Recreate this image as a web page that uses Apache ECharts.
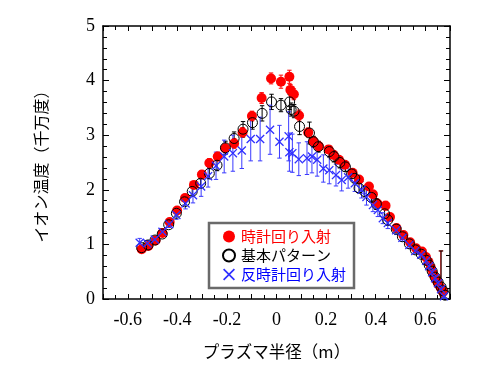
<!DOCTYPE html>
<html><head><meta charset="utf-8">
<script src="https://cdn.jsdelivr.net/npm/echarts@6/dist/echarts.min.js"></script>
<style>html,body{margin:0;padding:0;background:#fff}#c{width:500px;height:380px}</style>
</head><body><div id="c"></div>
<script>
const xTicks = [-0.6, -0.4, -0.2, 0, 0.2, 0.4, 0.6];
const seriesNames = ['時計回り入射', '基本パターン', '反時計回り入射'];

const redX = [-0.544,-0.517,-0.488,-0.46,-0.431,-0.401,-0.369,-0.333,-0.301,-0.271,-0.237,-0.207,-0.171,-0.137,-0.099,-0.06,-0.022,0.018,0.052,0.056,0.07,0.091,0.128,0.149,0.17,0.21,0.23,0.252,0.276,0.307,0.333,0.373,0.389,0.407,0.44,0.458,0.484,0.512,0.539,0.563,0.587,0.603,0.613,0.623,0.632,0.643,0.653,0.663,0.672];
const redY = [0.91,0.97,1.07,1.21,1.41,1.62,1.85,2.09,2.28,2.49,2.61,2.76,2.85,3.05,3.35,3.68,4.04,3.98,4.07,3.83,3.75,3.36,3.05,2.89,2.80,2.74,2.64,2.55,2.46,2.31,2.19,2.06,1.92,1.75,1.71,1.50,1.30,1.17,1.04,0.93,0.87,0.77,0.68,0.57,0.46,0.36,0.27,0.20,0.13];
const redErr = [0.05,0.04,0.04,0.04,0.04,0.05,0.05,0.06,0.07,0.08,0.08,0.08,0.09,0.09,0.09,0.1,0.1,0.12,0.12,0.1,0.1,0.1,0.08,0.08,0.08,0.07,0.07,0.06,0.06,0.06,0.05,0.05,0.05,0.05,0.08,0.05,0.05,0.04,0.04,0.04,0.04,0.04,0.04,0.04,0.04,0.04,0.04,0.68,0.04];

const blackX = [-0.544,-0.518,-0.49,-0.461,-0.435,-0.404,-0.371,-0.34,-0.306,-0.271,-0.24,-0.206,-0.171,-0.135,-0.097,-0.058,-0.02,0.018,0.053,0.059,0.071,0.093,0.133,0.149,0.169,0.213,0.232,0.256,0.278,0.303,0.316,0.333,0.356,0.383,0.403,0.436,0.449,0.483,0.508,0.536,0.56,0.584,0.604,0.616,0.628,0.64,0.652,0.664,0.672,0.68];
const blackY = [0.94,0.99,1.08,1.19,1.36,1.57,1.78,1.97,2.12,2.30,2.45,2.77,2.94,3.11,3.23,3.40,3.61,3.55,3.61,3.47,3.44,3.16,3.04,2.88,2.79,2.70,2.61,2.50,2.42,2.29,2.21,2.03,1.97,1.86,1.74,1.56,1.45,1.28,1.14,1.01,0.90,0.82,0.71,0.62,0.51,0.40,0.31,0.22,0.15,0.07];
const blackErr = [0.04,0.04,0.04,0.04,0.05,0.05,0.06,0.07,0.08,0.1,0.1,0.12,0.12,0.14,0.12,0.14,0.14,0.12,0.14,0.12,0.12,0.15,0.2,0.1,0.1,0.1,0.1,0.1,0.08,0.08,0.08,0.08,0.1,0.08,0.1,0.08,0.1,0.06,0.05,0.05,0.05,0.05,0.05,0.05,0.05,0.05,0.05,0.66,0.05,0.05];

const blueX = [-0.552,-0.521,-0.491,-0.46,-0.433,-0.404,-0.367,-0.337,-0.304,-0.276,-0.244,-0.211,-0.176,-0.14,-0.104,-0.066,-0.026,0.012,0.049,0.052,0.064,0.09,0.123,0.143,0.164,0.189,0.213,0.24,0.263,0.289,0.316,0.343,0.363,0.389,0.409,0.429,0.449,0.483,0.508,0.536,0.56,0.584,0.604,0.616,0.628,0.64,0.652,0.664,0.676];
const blueY = [1.03,1.02,1.09,1.23,1.37,1.54,1.75,1.90,2.06,2.25,2.44,2.61,2.67,2.72,2.93,2.93,3.10,2.88,2.98,2.69,2.67,2.56,2.58,2.61,2.55,2.39,2.36,2.27,2.18,2.23,2.12,2.00,1.87,1.72,1.63,1.48,1.39,1.26,1.12,0.99,0.88,0.81,0.70,0.60,0.49,0.38,0.29,0.18,0.05];
const blueErr = [0.08,0.05,0.05,0.06,0.06,0.08,0.1,0.14,0.18,0.2,0.25,0.3,0.33,0.33,0.4,0.4,0.45,0.3,0.45,0.35,0.35,0.3,0.3,0.3,0.3,0.25,0.25,0.2,0.2,0.2,0.15,0.15,0.15,0.12,0.12,0.1,0.1,0.08,0.06,0.06,0.05,0.05,0.05,0.05,0.05,0.05,0.05,0.05,0.05];

function pts(xs, ys){ return xs.map((x,i)=>[x, ys[i]]); }
function errData(xs, ys, es){ return xs.map((x,i)=>[x, ys[i]-es[i], ys[i]+es[i]]); }
function errSeries(xs, ys, es, color){
  return {
    type:'custom', silent:true, clip:true, z:1,
    data: errData(xs, ys, es),
    renderItem: function(params, api){
      const lo = api.coord([api.value(0), api.value(1)]);
      const hi = api.coord([api.value(0), api.value(2)]);
      const w = 2.2;
      const st = {stroke: color, lineWidth: 1, fill: null};
      return {type:'group', children:[
        {type:'line', shape:{x1:lo[0],y1:lo[1],x2:hi[0],y2:hi[1]}, style:st},
        {type:'line', shape:{x1:lo[0]-w,y1:lo[1],x2:lo[0]+w,y2:lo[1]}, style:st},
        {type:'line', shape:{x1:hi[0]-w,y1:hi[1],x2:hi[0]+w,y2:hi[1]}, style:st}
      ]};
    }
  };
}
const xPath = 'path://M0,1 L1,0 L5,4 L9,0 L10,1 L6,5 L10,9 L9,10 L5,6 L1,10 L0,9 L4,5 Z';

const chart = echarts.init(document.getElementById('c'), null, {renderer:'canvas'});
const numFont = {fontFamily:'Liberation Serif', fontSize:18, color:'#000'};
const axLine = {show:true, onZero:false, lineStyle:{color:'#000', width:1.5}};
chart.setOption({
  animation:false,
  backgroundColor:'#fff',
  grid:{left:103, right:50, top:26, bottom:81},
  legend:{
    orient:'vertical', left:209, top:223,
    padding:[6,8,6,13], itemGap:4, itemWidth:14, itemHeight:12,
    borderColor:'#6a6a6a', borderWidth:2.5, backgroundColor:'#fff',
    textStyle:{fontFamily:'Noto Sans CJK JP', fontSize:15},
    data:[
      {name:seriesNames[0], textStyle:{color:'#ff0000'}},
      {name:seriesNames[1], textStyle:{color:'#000'}},
      {name:seriesNames[2], textStyle:{color:'#0000ff'}}
    ]
  },
  xAxis:[{
    type:'value', min:-0.7, max:0.7, interval:0.1,
    name:'プラズマ半径（m）', nameLocation:'middle', nameGap:44,
    nameTextStyle:{fontFamily:'Noto Sans CJK JP', fontSize:16.5, color:'#000'},
    axisLine:axLine, splitLine:{show:false},
    axisTick:{inside:true, length:5, lineStyle:{color:'#000'}},
    minorTick:{show:true, splitNumber:2, length:4, lineStyle:{color:'#000'}},
    axisLabel:{...numFont, margin:12, formatter:function(v){
      const k = Math.round(v*10);
      if (Math.abs(k)%2===1) return '';
      const f = xTicks.find(t=>Math.abs(t-v)<1e-6);
      return f===undefined ? '' : (f===0 ? '0' : String(f));
    }}
  },{
    type:'value', position:'top', min:-0.7, max:0.7, interval:0.1,
    axisLine:axLine, splitLine:{show:false}, axisLabel:{show:false},
    axisTick:{inside:true, length:5, lineStyle:{color:'#000'}},
    minorTick:{show:true, splitNumber:2, length:4, lineStyle:{color:'#000'}}
  }],
  yAxis:[{
    type:'value', min:0, max:5, interval:1,
    name:'イオン温度（千万度）', nameLocation:'middle', nameGap:54, nameRotate:90,
    nameTextStyle:{fontFamily:'Noto Sans CJK JP', fontSize:16, color:'#000'},
    axisLine:axLine, splitLine:{show:false},
    axisTick:{inside:true, length:6, lineStyle:{color:'#000'}},
    minorTick:{show:true, splitNumber:5, length:4, lineStyle:{color:'#000'}},
    axisLabel:{...numFont, margin:8}
  },{
    type:'value', position:'right', min:0, max:5, interval:1,
    axisLine:axLine, splitLine:{show:false}, axisLabel:{show:false},
    axisTick:{inside:true, length:6, lineStyle:{color:'#000'}},
    minorTick:{show:true, splitNumber:5, length:4, lineStyle:{color:'#000'}}
  }],
  series:[
    errSeries(redX, redY, redErr, '#ff0000'),
    {name:seriesNames[0], type:'scatter', z:3, symbol:'circle', symbolSize:10,
     itemStyle:{color:'#ff0000', opacity:1}, data:pts(redX, redY)},
    errSeries(blackX, blackY, blackErr, '#000000'),
    {name:seriesNames[1], type:'scatter', z:4, symbol:'circle', symbolSize:10,
     itemStyle:{color:'rgba(0,0,0,0)', borderColor:'#000', borderWidth:1, opacity:1}, data:pts(blackX, blackY)},
    errSeries(blueX, blueY, blueErr, '#3a3aff'),
    {name:seriesNames[2], type:'scatter', z:5, symbol:xPath, symbolSize:9,
     itemStyle:{color:'#3030ff', opacity:1}, data:pts(blueX, blueY)}
  ]
});
</script></body></html>
